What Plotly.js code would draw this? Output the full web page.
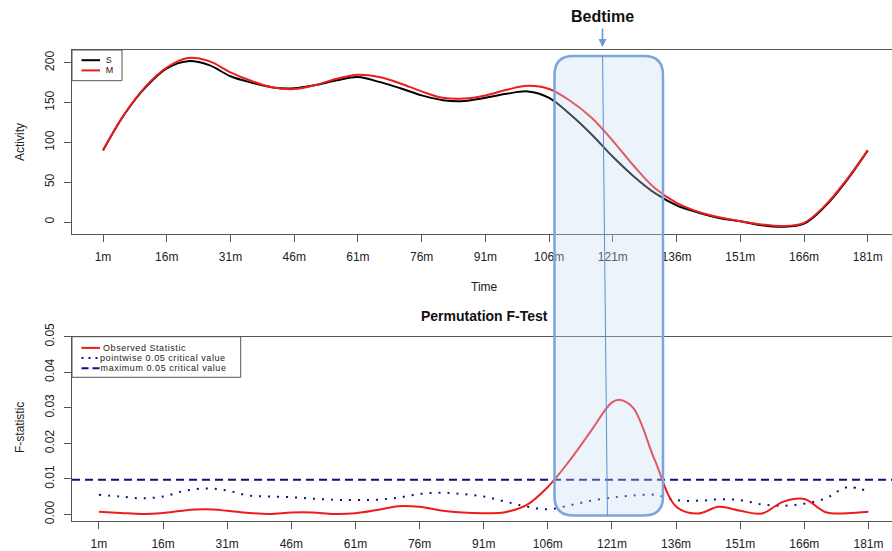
<!DOCTYPE html>
<html>
<head>
<meta charset="utf-8">
<script src="https://cdn.plot.ly/plotly-3.0.1.min.js"></script>
<style>html,body{margin:0;padding:0;background:#fff;}#chart{width:892px;height:551px;}</style>
</head>
<body>
<div id="chart"></div>
<script>
// ---------- data ----------
const time = [1,6,11,16,21,26,31,36,41,46,51,56,61,66,71,76,81,86,91,96,101,106,111,116,121,126,131,136,141,146,151,156,161,166,171,176,181];
const activityS = [90,135,169,193,202,197,183,175,169,168,172,178,182,176,168,159,153,152,156,161,164,156,135,110,82,57,36,21,12,5,1,-4,-6,-2,20,52,90];
const activityM = [90,135,170,194,206,202,188,177,169,167,172,180,185,182,174,164,156,155,159,166,171,167,152,131,102,70,42,24,13,6,1,-3,-5,-1,21,53,90];

const fTime = [1,6,11,16,21,26,31,36,41,46,51,56,61,66,71,76,81,86,91,96,101,106,111,116,121,123,126,131,136,141,146,151,156,161,166,171,176,181];
const observedF = [0.0007,0.0004,0.0001,0.0004,0.0011,0.0014,0.0010,0.0004,0.0001,0.0005,0.0005,0.0001,0.0003,0.0012,0.0023,0.0021,0.0011,0.0005,0.0003,0.0006,0.0026,0.0077,0.0150,0.0233,0.0315,0.0322,0.0299,0.0153,0.0022,0.0002,0.0021,0.0010,0.0002,0.0035,0.0043,0.0006,0.0003,0.0007];
const pointwiseCrit = [0.0055,0.0050,0.0045,0.0050,0.0066,0.0073,0.0067,0.0053,0.0050,0.0048,0.0044,0.0041,0.0040,0.0041,0.0047,0.0057,0.0061,0.0057,0.0050,0.0036,0.0022,0.0014,0.0025,0.0038,0.0047,0.0050,0.0053,0.0055,0.0040,0.0038,0.0042,0.0040,0.0028,0.0024,0.0030,0.0045,0.0076,0.0064];
const maximumCrit = 0.0097;

const timeTickVals = [1,16,31,46,61,76,91,106,121,136,151,166,181];
const timeTickText = ["1m","16m","31m","46m","61m","76m","91m","106m","121m","136m","151m","166m","181m"];
const actTickVals = [0,50,100,150,200];
const actTickText = ["0","50","100","150","200"];
const fTickVals = [0,0.01,0.02,0.03,0.04,0.05];
const fTickText = ["0.00","0.01","0.02","0.03","0.04","0.05"];

const topLegendNames = ["S", "M"];
const botLegendNames = ["Observed Statistic", "pointwise 0.05 critical value", "maximum 0.05 critical value"];

// ---------- layout helpers ----------
const W = 892, H = 551;
const px = x => x / W;
const py = y => 1 - y / H;

const RED = "#ee1c1c";
const NAVY = "#10107e";
const FRAME = "#555555";
const TXT = "#222222";
const FONT = "Liberation Sans, Arial, sans-serif";

const xTop = [-6.3, 186.7];
const xBot = [-5.3, 186.5];

const traces = [
  {x: time, y: activityS, xaxis: "x", yaxis: "y", mode: "lines", name: topLegendNames[0],
   line: {color: "#000000", width: 2, shape: "spline", smoothing: 1}, showlegend: false},
  {x: time, y: activityM, xaxis: "x", yaxis: "y", mode: "lines", name: topLegendNames[1],
   line: {color: RED, width: 2, shape: "spline", smoothing: 1}, showlegend: false},
  {x: xBot, y: [maximumCrit, maximumCrit], xaxis: "x2", yaxis: "y2", mode: "lines", name: botLegendNames[2],
   line: {color: NAVY, width: 2, dash: "8px,5px"}, showlegend: false},
  {x: fTime, y: pointwiseCrit, xaxis: "x2", yaxis: "y2", mode: "lines", name: botLegendNames[1],
   line: {color: NAVY, width: 2, dash: "2px,7px", shape: "spline", smoothing: 1}, showlegend: false},
  {x: fTime, y: observedF, xaxis: "x2", yaxis: "y2", mode: "lines", name: botLegendNames[0],
   line: {color: RED, width: 2, shape: "spline", smoothing: 1}, showlegend: false}
];

const axBase = {
  showgrid: false, zeroline: false, showline: true, linecolor: FRAME, linewidth: 1,
  ticks: "outside", ticklen: 7, tickcolor: FRAME, tickwidth: 1,
  tickfont: {family: FONT, size: 12, color: TXT}, fixedrange: true
};

// rounded highlight box
const bL = 554.5, bR = 663, bT = 56, bB = 515.5, r = 19;
const boxPath = [
  "M", px(bL + r), py(bT),
  "L", px(bR - r), py(bT),
  "Q", px(bR), py(bT), px(bR), py(bT + r),
  "L", px(bR), py(bB - r),
  "Q", px(bR), py(bB), px(bR - r), py(bB),
  "L", px(bL + r), py(bB),
  "Q", px(bL), py(bB), px(bL), py(bB - r),
  "L", px(bL), py(bT + r),
  "Q", px(bL), py(bT), px(bL + r), py(bT), "Z"
].map(v => typeof v === "number" ? v.toFixed(5) : v).join(" ");

const topRows = [60.2, 70.4];
const botRows = [347.9, 358.1, 368.3];

const shapes = [
  // top legend
  {type: "rect", xref: "paper", yref: "paper", x0: px(72), x1: px(122), y0: py(80.7), y1: py(50),
   line: {color: FRAME, width: 1}, fillcolor: "rgba(255,255,255,0)"},
  {type: "line", xref: "paper", yref: "paper", x0: px(81.5), x1: px(100), y0: py(topRows[0]), y1: py(topRows[0]),
   line: {color: "#000000", width: 2}},
  {type: "line", xref: "paper", yref: "paper", x0: px(81.5), x1: px(100), y0: py(topRows[1]), y1: py(topRows[1]),
   line: {color: RED, width: 2}},
  // bottom legend
  {type: "rect", xref: "paper", yref: "paper", x0: px(72), x1: px(240.7), y0: py(377.3), y1: py(336.7),
   line: {color: FRAME, width: 1}, fillcolor: "rgba(255,255,255,0)"},
  {type: "line", xref: "paper", yref: "paper", x0: px(81.5), x1: px(100), y0: py(botRows[0]), y1: py(botRows[0]),
   line: {color: RED, width: 2}},
  {type: "line", xref: "paper", yref: "paper", x0: px(81.5), x1: px(100), y0: py(botRows[1]), y1: py(botRows[1]),
   line: {color: NAVY, width: 2, dash: "2px,5px"}},
  {type: "line", xref: "paper", yref: "paper", x0: px(81.5), x1: px(100), y0: py(botRows[2]), y1: py(botRows[2]),
   line: {color: NAVY, width: 2, dash: "7px,4px"}},
  // highlight box
  {type: "path", xref: "paper", yref: "paper", path: boxPath, layer: "above",
   fillcolor: "rgba(200,218,242,0.33)", line: {color: "#7aa6dc", width: 2.5}},
  {type: "line", xref: "paper", yref: "paper", x0: px(602.6), x1: px(607.4), y0: py(bT), y1: py(bB),
   layer: "above", line: {color: "#5b8fd1", width: 1}}
];

const ann = (x, y, text, opts) => Object.assign({
  xref: "paper", yref: "paper", x: px(x), y: py(y), text: text, showarrow: false,
  xanchor: "center", yanchor: "middle", font: {family: FONT, size: 12, color: TXT}
}, opts || {});

const legFont = {family: FONT, size: 9, color: TXT};
const annotations = [
  ann(485, 287, "Time"),
  ann(20, 142, "Activity", {textangle: -90}),
  ann(20, 428, "F-statistic", {textangle: -90}),
  ann(485, 316, "<b>Permutation F-Test</b>", {font: {family: FONT, size: 14, color: "#111"}}),
  ann(602, 16, "<b>Bedtime</b>", {font: {family: FONT, size: 16, color: "#111"}}),
  ann(105, topRows[0], topLegendNames[0], {xanchor: "left", font: legFont, borderpad: 0}),
  ann(105, topRows[1], topLegendNames[1], {xanchor: "left", font: legFont, borderpad: 0}),
  ann(107, botRows[0], botLegendNames[0], {xanchor: "left", font: legFont, borderpad: 0}),
  ann(107, botRows[1], botLegendNames[1], {xanchor: "left", font: legFont, borderpad: 0}),
  ann(107, botRows[2], botLegendNames[2], {xanchor: "left", font: legFont, borderpad: 0}),
  // bedtime arrow
  {xref: "paper", yref: "paper", x: px(602.5), y: py(47), ax: 0, ay: -20, text: "", showarrow: true,
   arrowhead: 2, arrowsize: 1, arrowwidth: 1.6, arrowcolor: "#6f9bd5"}
];

const layout = {
  width: W, height: H,
  margin: {l: 0, r: 0, t: 0, b: 0, pad: 0},
  paper_bgcolor: "#ffffff", plot_bgcolor: "#ffffff",
  showlegend: false,
  xaxis: Object.assign({}, axBase, {domain: [px(72), 1], range: xTop, mirror: true,
    tickmode: "array", tickvals: timeTickVals, ticktext: timeTickText, anchor: "y", ticklabelstandoff: 5}),
  yaxis: Object.assign({}, axBase, {domain: [py(234), py(50)], range: [-15, 216], mirror: false,
    tickmode: "array", tickvals: actTickVals, ticktext: actTickText, tickangle: -90, anchor: "x", ticklabelstandoff: 5}),
  xaxis2: Object.assign({}, axBase, {domain: [px(72), 1], range: xBot, mirror: true,
    tickmode: "array", tickvals: timeTickVals, ticktext: timeTickText, anchor: "y2", ticklabelstandoff: 5}),
  yaxis2: Object.assign({}, axBase, {domain: [py(520.7), py(336.7)], range: [-0.0018, 0.05], mirror: false,
    tickmode: "array", tickvals: fTickVals, ticktext: fTickText, tickangle: -90, anchor: "x2", ticklabelstandoff: 5}),
  shapes: shapes,
  annotations: annotations
};

Plotly.newPlot("chart", traces, layout, {staticPlot: true, displayModeBar: false}).then(gd => {
  // widen the small legend labels slightly to match the reference's letter widths
  gd.querySelectorAll(".annotation-text").forEach(t => {
    const s = t.textContent;
    if (s === topLegendNames[0] || s === topLegendNames[1]) t.style.letterSpacing = "0.5px";
    if (botLegendNames.indexOf(s) >= 0) t.style.letterSpacing = "0.55px";
  });
});
</script>
</body>
</html>
